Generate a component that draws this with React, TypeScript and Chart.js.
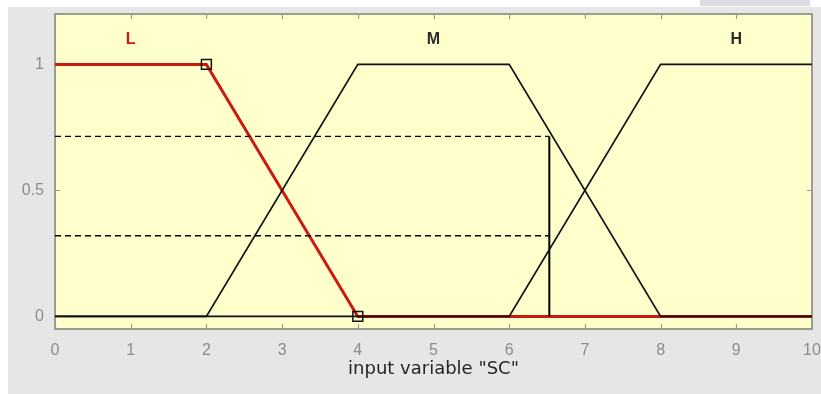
import React, { useEffect, useRef } from 'react';
import { Chart, registerables } from 'chart.js';

Chart.register(...registerables);

// Axis ranges and ticks
const xRange = [0, 10];
const yRange = [-0.05, 1.2];
const yTicks = [0, 0.5, 1];

// Membership functions of input variable "SC"
const lowX = [0, 2, 4, 10];
const lowY = [1, 1, 0, 0];
const medX = [0, 2, 4, 6, 8, 10];
const medY = [0, 0, 1, 1, 0, 0];
const highX = [0, 6, 8, 10];
const highY = [0, 0, 1, 1];

// Names of the membership functions and where they are written
const mfNames = ['L', 'M', 'H'];
const mfNameX = [1, 5, 9];
const mfNameY = 1.1;

// Vertices of the selected function (L)
const handleX = [2, 4];
const handleY = [1, 0];

// Current input and the resulting membership degrees
const inputValue = 6.53;
const degreeUpper = 0.714;
const degreeLower = 0.32;

const pts = (xs: number[], ys: number[]) => xs.map((x, i) => ({ x, y: ys[i] }));

const PANEL = '#e6e6e6';
const PLOT_BG = '#ffffcc';
const FRAME = '#9c9c8e';
const SELECTED = '#cc1a10';

const backdrop = {
  id: 'backdrop',
  beforeDraw(chart: any) {
    const { ctx, chartArea: a, width, height } = chart;
    ctx.save();
    ctx.fillStyle = '#ffffff';
    ctx.fillRect(0, 0, width, height);
    ctx.fillStyle = PANEL;
    ctx.fillRect(8, 7, width - 8, height - 7);
    ctx.fillStyle = '#dcdce2';
    ctx.fillRect(700, 0, 110, 6);
    ctx.fillStyle = PLOT_BG;
    ctx.fillRect(a.left, a.top, a.right - a.left, a.bottom - a.top);
    ctx.restore();
  },
};

// Axes box with inward tick marks, drawn underneath the curves
const frame = {
  id: 'frame',
  beforeDatasetsDraw(chart: any) {
    const { ctx, chartArea: a, scales } = chart;
    const xs = scales.x;
    const ys = scales.y;
    const len = 5;
    ctx.save();
    ctx.strokeStyle = FRAME;
    ctx.lineWidth = 1.2;
    ctx.beginPath();
    xs.ticks.forEach((t: any) => {
      const px = Math.round(xs.getPixelForValue(t.value)) + 0.5;
      ctx.moveTo(px, a.bottom);
      ctx.lineTo(px, a.bottom - len);
      ctx.moveTo(px, a.top);
      ctx.lineTo(px, a.top + len);
    });
    ys.ticks.forEach((t: any) => {
      const py = Math.round(ys.getPixelForValue(t.value)) + 0.5;
      ctx.moveTo(a.left, py);
      ctx.lineTo(a.left + len, py);
      ctx.moveTo(a.right, py);
      ctx.lineTo(a.right - len, py);
    });
    ctx.stroke();
    ctx.lineWidth = 2;
    ctx.strokeRect(a.left, a.top, a.right - a.left, a.bottom - a.top);
    ctx.restore();
  },
};

// Membership function names above the curves
const names = {
  id: 'names',
  afterDatasetsDraw(chart: any) {
    const { ctx, scales } = chart;
    ctx.save();
    ctx.font = 'bold 16px "Liberation Sans", Arial, sans-serif';
    ctx.textAlign = 'center';
    ctx.textBaseline = 'middle';
    mfNames.forEach((name, i) => {
      ctx.fillStyle = i === 0 ? SELECTED : '#2a2a2a';
      ctx.fillText(name, scales.x.getPixelForValue(mfNameX[i]), scales.y.getPixelForValue(mfNameY));
    });
    ctx.restore();
  },
};

export default function App() {
  const ref = useRef<HTMLCanvasElement | null>(null);

  useEffect(() => {
    if (!ref.current) return;
    const chart = new Chart(ref.current, {
      type: 'scatter',
      data: {
        datasets: [
          {
            data: pts(handleX, handleY),
            showLine: false,
            pointStyle: 'rect',
            pointRadius: 7,
            pointBorderColor: '#111111',
            pointBorderWidth: 1.5,
            pointBackgroundColor: 'rgba(0,0,0,0)',
            order: 0,
          },
          {
            data: [
              { x: inputValue, y: 0 },
              { x: inputValue, y: degreeUpper },
            ],
            showLine: true,
            borderColor: '#000000',
            borderWidth: 2,
            pointRadius: 0,
            order: 1,
          },
          {
            data: [
              { x: xRange[0], y: degreeUpper },
              { x: inputValue, y: degreeUpper },
            ],
            showLine: true,
            borderColor: '#000000',
            borderWidth: 1.3,
            borderDash: [6, 4],
            pointRadius: 0,
            order: 1,
          },
          {
            data: [
              { x: xRange[0], y: degreeLower },
              { x: inputValue, y: degreeLower },
            ],
            showLine: true,
            borderColor: '#000000',
            borderWidth: 1.3,
            borderDash: [6, 4],
            pointRadius: 0,
            order: 1,
          },
          {
            data: pts(medX, medY),
            showLine: true,
            borderColor: '#111111',
            borderWidth: 1.7,
            pointRadius: 0,
            order: 2,
          },
          {
            data: pts(highX, highY),
            showLine: true,
            borderColor: '#111111',
            borderWidth: 1.7,
            pointRadius: 0,
            order: 2,
          },
          {
            data: pts(lowX, lowY),
            showLine: true,
            borderColor: SELECTED,
            borderWidth: 3,
            pointRadius: 0,
            order: 3,
          },
        ],
      },
      options: {
        animation: false,
        responsive: false,
        devicePixelRatio: 1,
        layout: { padding: { top: 14, right: 9, left: 0, bottom: 0 } },
        plugins: { legend: { display: false }, tooltip: { enabled: false } },
        scales: {
          x: {
            type: 'linear',
            min: xRange[0],
            max: xRange[1],
            grid: { display: false, drawTicks: false },
            border: { display: false },
            ticks: {
              stepSize: 1,
              padding: 12,
              color: '#8c8c8c',
              font: { family: '"Liberation Sans", Arial, sans-serif', size: 16 },
              maxRotation: 0,
            },
            title: {
              display: true,
              text: 'input variable "SC"',
              color: '#262626',
              font: { family: '"DejaVu Sans", sans-serif', size: 18 },
              padding: { top: 0, bottom: 14 },
            },
            afterFit(s: any) {
              s.height = 65;
              s.paddingLeft = 0;
              s.paddingRight = 0;
            },
          },
          y: {
            type: 'linear',
            min: yRange[0],
            max: yRange[1],
            grid: { display: false, drawTicks: false },
            border: { display: false },
            afterBuildTicks(axis: any) {
              axis.ticks = yTicks.map((v) => ({ value: v }));
            },
            ticks: {
              padding: 11,
              color: '#8c8c8c',
              font: { family: '"Liberation Sans", Arial, sans-serif', size: 16 },
              callback: (v: any) => String(v),
            },
            afterFit(s: any) {
              s.width = 55;
              s.paddingTop = 0;
              s.paddingBottom = 0;
            },
          },
        },
      },
      plugins: [backdrop, frame, names],
    } as any);
    return () => chart.destroy();
  }, []);

  return (
    <div
      style={{
        position: 'fixed',
        left: 0,
        top: 0,
        width: 821,
        height: 394,
        background: '#ffffff',
      }}
    >
      <canvas ref={ref} width={821} height={394} style={{ display: 'block' }} />
    </div>
  );
}
